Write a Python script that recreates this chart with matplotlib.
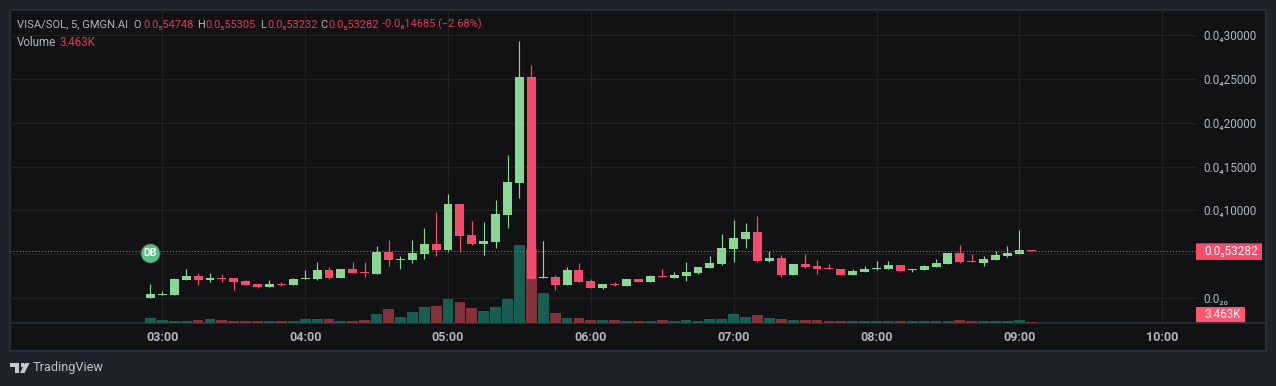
import matplotlib
matplotlib.use("Agg")
import matplotlib.pyplot as plt
from matplotlib.patches import Rectangle, Polygon, FancyBboxPatch
from matplotlib.lines import Line2D

W, H = 1276, 386
plt.rcParams['font.family'] = ['Roboto', 'Noto Sans', 'DejaVu Sans']

# Price in units of 1e-6, time in minutes after midnight
start_minute = 175
bar_minutes = 5
opens = [0.00,0.38,0.34,2.05,2.51,2.05,2.28,2.28,1.94,1.60,1.26,1.60,1.48,2.17,2.17,3.20,2.28,3.31,2.97,2.74,5.25,
         4.34,4.34,5.02,6.16,5.48,10.73,7.19,6.16,6.39,9.47,13.13,25.23,2.28,2.40,1.48,3.20,1.94,1.14,
         1.60,1.37,2.17,1.83,2.51,2.28,2.51,2.85,3.42,3.88,5.59,6.73,7.53,4.22,4.57,2.63,3.88,3.65,3.42,3.31,
         2.63,2.97,3.31,3.31,3.77,3.20,3.20,3.54,3.88,5.14,4.22,4.00,4.34,4.79,5.02,5.4748]
highs = [1.60,0.80,2.28,3.31,2.85,2.85,2.74,2.28,2.05,1.60,2.05,1.83,2.28,3.20,4.11,3.54,3.31,4.11,4.11,5.94,6.62,
         4.79,6.62,7.99,9.82,11.87,10.73,8.79,8.68,11.19,16.32,29.34,26.60,6.51,2.63,3.54,4.00,2.17,1.60,
         1.83,2.17,2.17,2.63,3.31,2.97,4.11,3.54,4.79,7.31,8.90,8.56,9.36,5.36,4.91,3.88,5.02,4.34,3.88,3.31,
         3.31,3.65,4.22,4.22,3.77,3.31,3.77,4.45,5.14,6.05,5.02,4.79,5.36,5.94,7.76,5.5305]
lows = [0.00,0.38,0.34,2.05,1.48,1.83,1.83,0.91,1.48,1.14,1.26,1.37,1.48,2.17,2.05,2.17,2.28,2.85,2.40,2.74,3.65,
        3.31,4.00,4.45,4.79,5.25,5.25,6.05,4.91,5.71,7.99,11.42,2.17,2.28,0.91,1.48,1.83,1.14,1.03,
        1.37,1.37,1.83,1.83,2.40,2.28,1.94,2.74,3.42,3.77,4.11,5.71,4.11,4.11,2.40,2.63,3.42,2.74,3.31,2.63,
        2.63,2.97,3.20,3.31,2.97,2.97,3.20,3.54,3.88,4.00,4.11,3.65,4.34,4.68,5.02,5.3232]
closes = [0.46,0.46,2.17,2.51,2.05,2.28,2.21,1.83,1.48,1.26,1.60,1.48,2.17,2.28,3.20,2.28,3.31,2.85,2.85,5.25,4.34,
          4.45,5.14,6.16,5.48,10.73,7.08,6.16,6.51,9.59,13.24,25.23,2.17,2.40,1.48,3.20,1.83,1.14,1.60,
          1.48,2.17,1.83,2.51,2.40,2.63,2.97,3.54,4.00,5.71,6.85,7.53,4.22,4.57,2.63,3.88,3.54,3.31,3.31,2.63,
          3.08,3.31,3.42,3.77,3.08,3.31,3.65,4.00,5.14,4.11,4.11,4.45,4.91,5.14,5.48,5.3282]
volumes = [15,9,6,6,9,12,9,6,6,6,6,6,6,12,12,12,6,6,9,28,43,
           19,34,49,52,73,64,46,37,49,73,235,223,91,31,16,16,10,9,
           9,6,6,6,9,6,9,6,12,12,27,18,24,15,12,9,9,9,6,6,
           6,6,6,6,6,6,6,6,6,9,6,6,6,6,9,3.463]
hour_ticks = [180,240,300,360,420,480,540,600]
hour_labels = ['03:00','04:00','05:00','06:00','07:00','08:00','09:00','10:00']
price_ticks = [0,5,10,15,20,25,30]
price_labels = ['0.0₂₀','','0.0₄10000','0.0₄15000','0.0₄20000','0.0₄25000','0.0₄30000']
last_price = 5.3282
last_price_label = '0.0₅53282'
last_volume_label = '3.463K'

OUTER, PANEL = '#1e222d', '#121214'
GRID, BORDER = '#202123', '#2a2e39'
GREEN, RED = '#88d893', '#f54b6b'
VGREEN, VRED = '#185e52', '#843239'
TXT, HRED = '#b2b5be', '#de3a55'

fig = plt.figure(figsize=(W/100, H/100), dpi=100, facecolor=OUTER)
fx = lambda x: x/W
fy = lambda y: 1-y/H
def ftext(x, y, s, color=TXT, size=8.0, ha='left', **kw):
    return fig.text(fx(x), fy(y), s, color=color, fontsize=size, ha=ha, va='center', **kw)

fig.add_artist(Rectangle((fx(10), fy(350.5)), 1256/W, 340.5/H, transform=fig.transFigure,
                         facecolor=PANEL, edgecolor=BORDER, lw=1.4))

rect = [fx(10), fy(323), 1186/W, 313/H]
ax_grid = fig.add_axes(rect, zorder=1, facecolor='none')
ax_vol = fig.add_axes(rect, zorder=2, facecolor='none')
ax = fig.add_axes(rect, zorder=3, facecolor='none')
xlim = (116.0, 614.2)
ylim = (-2.85, 32.88)
for a in (ax_grid, ax_vol, ax):
    a.set_xlim(*xlim)
    for s in a.spines.values():
        s.set_visible(False)
ax.set_ylim(*ylim); ax_grid.set_ylim(*ylim); ax_vol.set_ylim(0, 939)
ax.set_xticks([]); ax.set_yticks([]); ax_vol.set_xticks([]); ax_vol.set_yticks([])

ax_grid.set_xticks(hour_ticks, hour_labels)
ax_grid.yaxis.tick_right()
ax_grid.set_yticks(price_ticks, price_labels)
ax_grid.tick_params(axis='x', length=0, pad=5.5, colors=TXT, labelsize=9)
ax_grid.tick_params(axis='y', length=0, pad=5.0, colors=TXT, labelsize=8.5)
for lb in ax_grid.get_xticklabels():
    lb.set_fontweight('bold')
ax_grid.grid(True, color=GRID, lw=1)
ax_grid.set_axisbelow(True)

times = [start_minute + i*bar_minutes for i in range(len(opens))]
up = [c >= o for o, c in zip(opens, closes)]

ax_vol.bar(times, volumes, width=4.55, color=[VGREEN if u else VRED for u in up], lw=0)

colors = [GREEN if u else RED for u in up]
ax.vlines(times, lows, highs, colors=colors, lw=0.85)
ax.bar(times, [max(abs(c-o), 0.11) for o, c in zip(opens, closes)], bottom=[min(o, c) for o, c in zip(opens, closes)],
       width=3.75, color=colors, lw=0)
ax.axhline(last_price, color=RED, lw=0.75, ls=(0, (1, 2)), zorder=5)
ax.scatter([times[0]], [5.14], s=190, color='#5cbd85', edgecolor='#2a5a42', lw=0.5, zorder=6)
ax.text(times[0], 5.14, 'DB', color='white', fontsize=7.6, fontweight='bold', ha='center', va='center', zorder=7)

fig.add_artist(Line2D([fx(10), fx(1266)], [fy(323.3)]*2, color=BORDER, lw=1.2))

# Last price and volume tags
fig.add_artist(FancyBboxPatch((fx(1196), fy(260)), 66/W, 16.7/H, boxstyle='round,pad=0,rounding_size=0.001',
                              transform=fig.transFigure, facecolor='#f54b6b', edgecolor='none'))
ftext(1204, 251.5, last_price_label, color='white', size=8.5)
fig.add_artist(FancyBboxPatch((fx(1196), fy(323)), 49/W, 16/H, boxstyle='round,pad=0,rounding_size=0.001',
                              transform=fig.transFigure, facecolor='#fb5870', edgecolor='none'))
ftext(1204, 315, last_volume_label, color='white', size=8.4)

# Legend
ftext(17, 24.5, 'VISA/SOL, 5, GMGN.AI')
for x, s, c in [(133,'O',TXT),(143,'0.0₅54748',HRED),(197,'H',TXT),(205,'0.0₅55305',HRED),
                (260,'L',TXT),(267,'0.0₅53232',HRED),(320,'C',TXT),(328,'0.0₅53282',HRED),
                (382,'-0.0₆14685 (−2.68%)',HRED)]:
    ftext(x, 24.5, s, color=c, size=7.95)
ftext(17, 42, 'Volume', size=8.3)
ftext(60, 42, last_volume_label, color=HRED, size=8.3)

# Attribution
logo = '#c8cad0'
fig.add_artist(Polygon([(fx(10),fy(363)),(fx(19),fy(363)),(fx(19),fy(373)),(fx(14.5),fy(373)),(fx(14.5),fy(367)),(fx(10),fy(367))],
                       transform=fig.transFigure, facecolor=logo, edgecolor='none'))
fig.add_artist(Polygon([(fx(25),fy(363)),(fx(29.5),fy(363)),(fx(24.5),fy(373)),(fx(20),fy(373))],
                       transform=fig.transFigure, facecolor=logo, edgecolor='none'))
fig.add_artist(Rectangle((fx(20.5), fy(367)), 3.6/W, 3.6/H, transform=fig.transFigure, facecolor=logo, edgecolor='none'))
ftext(33, 368, 'TradingView', size=9.2, color='#c0c3ca')

fig.savefig('out.png', dpi=100, facecolor=OUTER)
